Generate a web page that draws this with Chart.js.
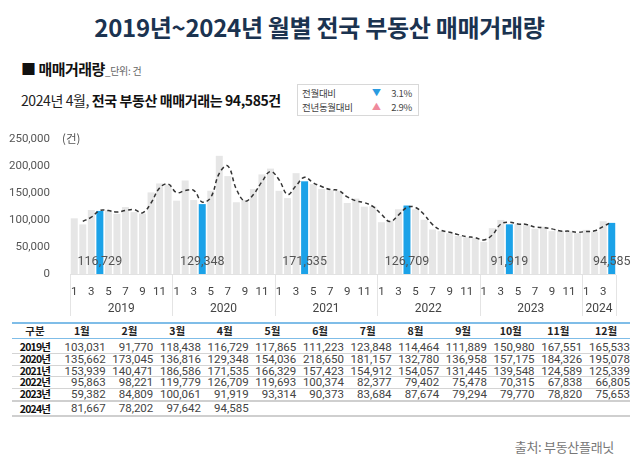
<!DOCTYPE html>
<html><head><meta charset="utf-8">
<script src="https://cdn.jsdelivr.net/npm/chart.js@4.4.1/dist/chart.umd.min.js"></script>
<style>
html,body{margin:0;padding:0;background:#fff;}
body{width:639px;height:461px;position:relative;overflow:hidden;font-family:"Noto Sans CJK KR","Noto Sans",Roboto,sans-serif;}
.abs{position:absolute;white-space:nowrap;}
#title{left:0;width:639px;top:10px;text-align:center;font-size:24px;font-weight:700;color:#1b3350;letter-spacing:-0.3px;line-height:34px;}
#sub{left:21px;top:58px;font-size:15px;font-weight:700;color:#111;line-height:22px;letter-spacing:-0.5px;}
#sub .u{font-size:10px;font-weight:400;color:#666;letter-spacing:-0.3px;}
#headline{left:21px;top:89px;font-size:14px;color:#222;line-height:22px;letter-spacing:-0.4px;}
#headline b{font-weight:700;color:#111;}
#box{left:297px;top:84px;width:120px;height:30px;border:1px solid #d8d8d8;font-size:9.5px;color:#444;letter-spacing:-0.3px;}
#box .r{position:absolute;left:4px;right:6px;height:14px;line-height:14px;}
#box .t{position:absolute;left:70px;font-size:9px;}
#box .p{position:absolute;right:0;}
#chartwrap{left:0;top:120px;width:639px;height:198px;}
#tbl{left:12px;top:322px;width:618px;border-collapse:collapse;font-family:Roboto,"Noto Sans CJK KR",sans-serif;font-size:11.5px;color:#444;}
#tbl td,#tbl th{padding:0;height:10.8px;line-height:10.8px;}
#tbl th{font-weight:700;color:#222;font-family:"Noto Sans CJK KR",sans-serif;font-size:10.5px;height:14px;line-height:14px;text-align:center;}
#tbl thead tr{border-top:2px solid #7fbde8;border-bottom:1.5px solid #7fbde8;}
#tbl tbody tr{border-bottom:1px solid #d4d4d4;}
#tbl tbody tr:first-child td{padding-top:3px;}
#tbl tbody tr:nth-last-child(2){border-bottom:2px solid #cfcfcf;}
#tbl tbody tr:last-child{border-bottom:2px solid #cfcfcf;}
#tbl tbody tr:last-child td{height:13px;line-height:13px;}
#tbl td{text-align:right;}
#tbl td.y{text-align:center;font-weight:700;color:#111;font-family:"Noto Sans CJK KR",sans-serif;font-size:10.5px;letter-spacing:-0.8px;}
#src{right:25px;top:437px;font-size:13px;color:#777;letter-spacing:-0.3px;}
</style></head>
<body>
<div id="title" class="abs">2019년~2024년 월별 전국 부동산 매매거래량</div>
<div id="sub" class="abs">■ 매매거래량<span class="u">_단위: 건</span></div>
<div id="headline" class="abs">2024년 4월, <b>전국 부동산 매매거래는 94,585건</b></div>
<div id="box" class="abs">
  <div class="r" style="top:1px">전월대비<span class="t" style="color:#2a9be0">▼</span><span class="p">3.1%</span></div>
  <div class="r" style="top:15px">전년동월대비<span class="t" style="color:#ef8a9c">▲</span><span class="p">2.9%</span></div>
</div>
<div id="chartwrap" class="abs"><canvas id="c" width="639" height="198"></canvas></div>
<table id="tbl" class="abs"><thead></thead><tbody></tbody></table>
<div id="src" class="abs">출처: 부동산플래닛</div>
<script>
const years = ['2019','2020','2021','2022','2023','2024'];
const months = ['1','2','3','4','5','6','7','8','9','10','11','12'];
const v2019 = [103031,91770,118438,116729,117865,111223,123848,114464,111889,150980,167551,165533];
const v2020 = [135662,173045,136816,129348,154036,218650,181157,132780,136958,157175,184326,195078];
const v2021 = [153939,140471,186586,171535,166329,157423,154912,154057,131445,139548,124589,125339];
const v2022 = [95863,98221,119779,126709,119693,100374,82377,79402,75478,70315,67838,66805];
const v2023 = [59382,84809,100061,91919,93314,90373,83684,87674,79294,79770,78820,75653];
const v2024 = [81667,78202,97642,94585];
// dashed trend line
const t2019 = [null,97400,105100,117600,117300,114500,117500,119200,113200,131400,159300,166500];
const t2020 = [150600,154400,154900,133100,141700,186300,199900,157000,134900,147100,170800,189700];
const t2021 = [174500,147200,163500,179100,168900,161900,156200,154500,142800,135500,132100,125000];
const t2022 = [110600,97000,109000,123200,123200,110000,91400,80900,77400,72900,69100,67300];
const t2023 = [63100,72100,92400,96000,92600,91800,87000,85700,83500,79500,79300,77200];
const t2024 = [78700,79900,87900,96100];
const highlightMonth = '4';
const yTicks = [0,50000,100000,150000,200000,250000];
const yUnit = '(건)';

const valuesByYear = [v2019,v2020,v2021,v2022,v2023,v2024];
const trendByYear = [t2019,t2020,t2021,t2022,t2023,t2024];
const labels=[], yearOf=[], values=[], trend=[];
valuesByYear.forEach((arr,yi)=>arr.forEach((v,mi)=>{labels.push(months[mi]);yearOf.push(years[yi]);values.push(v);trend.push(trendByYear[yi][mi]);}));
const GRAY='#e6e6e6', BLUE='#1ba2e8';
const colors = labels.map(m=>m===highlightMonth?BLUE:GRAY);
const fmt = n=>n.toLocaleString('en-US');

const thead=document.querySelector('#tbl thead'), tbody=document.querySelector('#tbl tbody');
thead.innerHTML='<tr><th style="width:46px">구분</th>'+months.map(m=>'<th>'+m+'월</th>').join('')+'</tr>';
tbody.innerHTML=valuesByYear.map((arr,yi)=>'<tr><td class="y">'+years[yi]+'년</td>'+months.map((m,mi)=>'<td>'+(arr[mi]!=null?fmt(arr[mi]):'')+'</td>').join('')+'</tr>').join('');

const extras={id:'extras',
  afterDraw(chart){
    const ctx=chart.ctx, x=chart.scales.x, y=chart.scales.y, ca=chart.chartArea;
    const step = x.getPixelForValue(1)-x.getPixelForValue(0);
    ctx.save();
    ctx.strokeStyle='#e2e2e2';ctx.lineWidth=1;
    ctx.beginPath();ctx.moveTo(ca.left,ca.bottom+0.5);ctx.lineTo(ca.right,ca.bottom+0.5);ctx.stroke();
    ctx.font='12px Roboto, "Noto Sans", sans-serif';ctx.fillStyle='#444';ctx.textAlign='center';ctx.textBaseline='middle';
    let bounds=[];
    years.forEach(yr=>{
      const idx=yearOf.map((v,i)=>v===yr?i:-1).filter(i=>i>=0);
      const a=idx[0], b=idx[idx.length-1];
      const xa=x.getPixelForValue(a)-step/2, xb=x.getPixelForValue(b)+step/2;
      bounds.push(xa,xb);
      ctx.fillText(yr,(xa+xb)/2,ca.bottom+35);
    });
    ctx.strokeStyle='#e4e4e4';
    [...new Set(bounds.map(b=>Math.round(b)))].forEach(bx=>{
      ctx.beginPath();ctx.moveTo(bx+0.5,ca.bottom+1);ctx.lineTo(bx+0.5,ca.bottom+42);ctx.stroke();
    });
    ctx.font='12.5px Roboto, "Noto Sans", sans-serif';ctx.fillStyle='#555';
    labels.forEach((m,i)=>{ if(m===highlightMonth){ ctx.fillText(fmt(values[i]),x.getPixelForValue(i),ca.bottom-12); }});
    ctx.font='11.5px "Noto Sans CJK KR", sans-serif';ctx.fillStyle='#555';ctx.textAlign='left';
    ctx.fillText(yUnit,62,y.getPixelForValue(250000));
    ctx.restore();
  }};

new Chart(document.getElementById('c'),{
  data:{labels,
    datasets:[
      {type:'line',data:trend,borderColor:'#333',borderWidth:1.5,borderDash:[4,3],pointRadius:0,tension:0.4,fill:false,order:0},
      {type:'bar',data:values,backgroundColor:colors,barPercentage:0.82,categoryPercentage:1,order:1}
    ]},
  options:{responsive:false,animation:false,
    layout:{padding:{top:14,right:23,left:0,bottom:0}},
    plugins:{legend:{display:false},tooltip:{enabled:false}},
    scales:{
      x:{grid:{display:false},border:{display:false},
        afterFit(s){s.height=44;},
        ticks:{autoSkip:false,maxRotation:0,padding:3,color:'#444',font:{size:11.5,family:'Roboto'},
          callback(v,i){const m=labels[i];return (parseInt(m)%2===1)?m:'';}}},
      y:{min:0,max:250000,grid:{display:false},border:{display:false},
        afterFit(s){s.width=70;},
        afterBuildTicks(s){s.ticks=yTicks.map(v=>({value:v}));},
        ticks:{padding:12,color:'#555',font:{size:11.5,family:'Roboto'},callback:v=>fmt(v)}}
    }},
  plugins:[extras]
});
</script>
</body></html>
